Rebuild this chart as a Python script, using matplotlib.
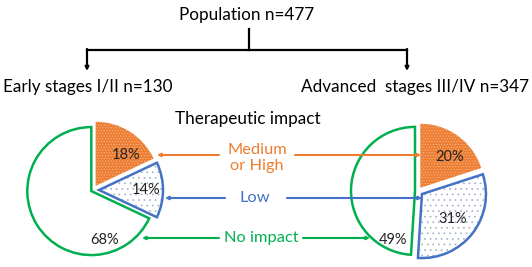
import numpy as np
import matplotlib.pyplot as plt

# data
categories = ['Medium\nor High', 'Low', 'No impact']
early_pct = [18, 14, 68]
advanced_pct = [20, 31, 49]
total_n = 477
early_n = 130
advanced_n = 347

orange = '#ED7D31'
blue = '#4472C4'
green = '#00B050'
colors = [orange, blue, green]

W, H = 532, 267
plt.rcParams['font.family'] = ['Lato', 'DejaVu Sans']
plt.rcParams['hatch.linewidth'] = 0.5

fig = plt.figure(figsize=(W / 100, H / 100), dpi=100)
ax = fig.add_axes([0, 0, 1, 1])


def py(y):
    # layout measured top-down in pixels
    return H - y


def draw_pie(center, pct, explode, radius=64):
    # fills and hatching (explode is in pixels here)
    wedges, _ = ax.pie(pct, explode=explode, center=center, radius=radius,
                       startangle=90, counterclock=False, frame=True,
                       colors=['white'] * 3)
    wedges[0].set_facecolor(orange)
    wedges[0].set_edgecolor('#F7B78E')
    wedges[0].set_linewidth(0)
    wedges[0].set_hatch('......')
    wedges[1].set_edgecolor('#a3b0c8')
    wedges[1].set_linewidth(0)
    wedges[1].set_hatch('...')
    wedges[2].set_linewidth(0)
    # outlines
    outl, _ = ax.pie(pct, explode=explode, center=center, radius=radius,
                     startangle=90, counterclock=False, frame=True,
                     wedgeprops=dict(fill=False, linewidth=1.8))
    outl[0].set_edgecolor('none')
    outl[1].set_edgecolor(blue)
    outl[2].set_edgecolor(green)


draw_pie((93, py(190)), early_pct, [5, 6, 2])
draw_pie((418, py(191)), advanced_pct, [4, 5, 3])

# percentage labels
early_pos = [(126, 155), (146, 190), (105, 240)]
adv_pos = [(450, 157), (453, 219), (393, 240)]
for vals, pos in [(early_pct, early_pos), (advanced_pct, adv_pos)]:
    for v, (x, y) in zip(vals, pos):
        ax.text(x, py(y), f'{v}%', ha='center', va='center', fontsize=10.5,
                color='#222222')

# tree at top
lk = dict(color='black', lw=1.6)
ax.plot([249, 249], [py(29), py(50)], **lk)
ax.plot([87, 407], [py(50), py(50)], **lk)
for x in [87, 407]:
    ax.annotate('', xy=(x, py(71)), xytext=(x, py(49)),
                arrowprops=dict(arrowstyle='-|>', color='black', lw=1.6,
                                mutation_scale=5, shrinkA=0, shrinkB=0))

ax.text(247, py(15), f'Population n={total_n}', ha='center', va='center',
        fontsize=12.3)
ax.text(3, py(87), f'Early stages I/II n={early_n}', ha='left', va='center',
        fontsize=12.3)
ax.text(529, py(87), f'Advanced  stages III/IV n={advanced_n}', ha='right',
        va='center', fontsize=12.3)
ax.text(248, py(119), 'Therapeutic impact', ha='center', va='center',
        fontsize=12.3)

# connector arrows and category labels
label_y = [158, 198, 238]
line_y = [155, 198, 238]
label_x = [257, 255, 261]
left_seg = [(157, 219), (165, 225), (142, 219)]
right_seg = [(295, 421), (287, 422), (303, 370)]
for cat, c, ty, y, x, ls, rs in zip(categories, colors, label_y, line_y,
                                    label_x, left_seg, right_seg):
    ax.text(x, py(ty), cat, ha='center', va='center', fontsize=11.8,
            color=c, linespacing=1.1)
    ap = dict(arrowstyle='-|>', color=c, lw=1.5, mutation_scale=4.5,
              shrinkA=0, shrinkB=0)
    ax.annotate('', xy=(ls[0], py(y)), xytext=(ls[1], py(y)), arrowprops=ap)
    ax.annotate('', xy=(rs[1], py(y)), xytext=(rs[0], py(y)), arrowprops=ap)

ax.set_xlim(0, W)
ax.set_ylim(0, H)
ax.set_aspect('auto')
ax.axis('off')

fig.savefig('out.png', dpi=100, facecolor='white')
